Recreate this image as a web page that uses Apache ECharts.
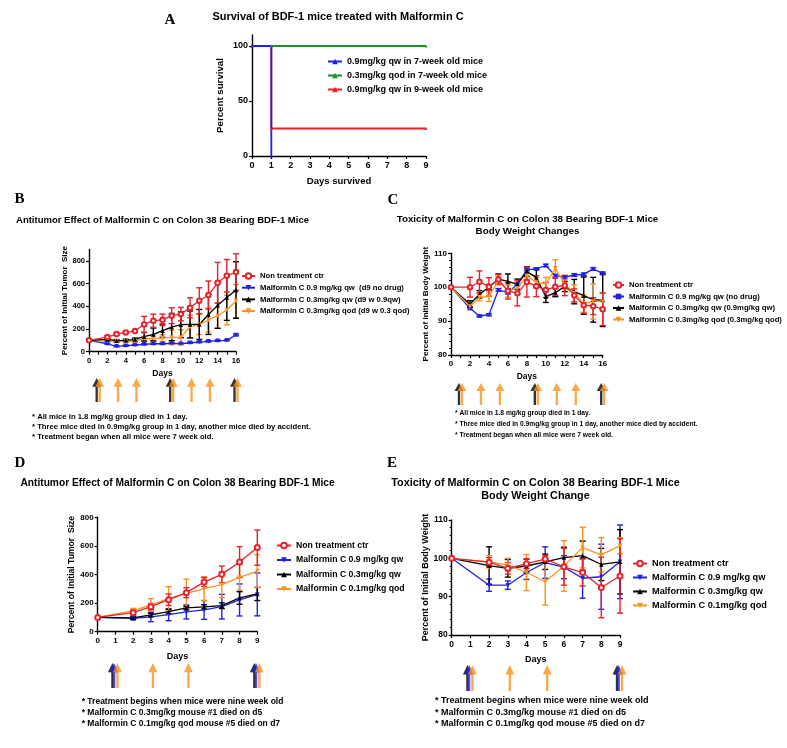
<!DOCTYPE html>
<html>
<head>
<meta charset="utf-8">
<script src="https://cdn.jsdelivr.net/npm/echarts@6/dist/echarts.min.js"></script>
<style>
  html, body { margin: 0; padding: 0; background: #fff; }
  #chart { width: 787px; height: 748px; }
</style>
</head>
<body>
<div id="chart"></div>
<script>
// ---- data ----
// A: survival (step curves)
const survDays = [0, 1, 9];
const survBlue = [100, 0, null];   // 0.9mg/kg qw, 7-week
const survGreen = [100, 100, 100]; // 0.3mg/kg qod, 7-week
const survRed = [100, 25, 25];     // 0.9mg/kg qw, 9-week

// B: tumor size, 7-week mice
const daysB = [0, 2, 3, 4, 5, 6, 7, 8, 9, 10, 11, 12, 13, 14, 15, 16];
const ctrB = [100, 129, 155, 170, 182, 240, 273, 281, 317, 331, 387, 449, 499, 607, 669, 701];
const ctrBErr = [0, 12, 10, 8, 8, 71, 58, 50, 70, 59, 88, 114, 123, 179, 143, 161];
const hiB = [100, 70, 47, 53, 59, 65, 70, 70, 73, 70, 79, 85, 91, 97, 100, 147];
const hiBErr = [0, 6, 5, 5, 5, 5, 6, 6, 6, 5, 6, 6, 6, 6, 5, 8];
const qwB = [100, 108, 97, 100, 108, 132, 152, 185, 217, 238, 240, 240, 328, 408, 478, 543];
const qwBErr = [0, 12, 10, 10, 12, 38, 56, 58, 120, 114, 118, 132, 176, 202, 202, 249];
const qodB = [100, 94, 91, 94, 94, 114, 114, 120, 126, 126, 220, 240, 279, 317, 367, 446];
const qodBErr = [0, 8, 10, 10, 12, 20, 25, 30, 64, 67, 102, 88, 105, 111, 130, 146];

// C: body weight, 7-week mice
const daysC = daysB;
const ctrC = [100, 100, 101.6, 100.1, 102.3, 98.9, 98.2, 101.5, 100.3, 99.2, 100.1, 100.5, 97.6, 94.7, 94.4, 93.5];
const ctrCErr = [0, 2.9, 3.2, 2.7, 1.4, 2.4, 3.7, 4.4, 3.1, 2.2, 2.5, 3.0, 1.9, 2.4, 2.5, 4.8];
const hiC = [100, 93.8, 91.5, 91.9, 99.2, 98.4, 100.9, 105.1, 105.4, 106.4, 103.4, 103.0, 103.6, 103.8, 105.4, 104.1];
const hiCErr = [0, 0.4, 0.3, 0.3, 0.4, 0.4, 0.3, 0.3, 0.3, 0.4, 0.4, 0.4, 0.4, 0.4, 0.4, 0.4];
const qwC = [100, 95.0, 97.9, 100, 102.4, 101.7, 100.9, 104.6, 102.9, 97.2, 98.4, 100.2, 98.7, 97.5, 96.3, 96.2];
const qwCErr = [0, 1.0, 1.1, 0.8, 1.5, 2.2, 1.5, 1.4, 2.4, 1.7, 1.2, 1.5, 3.6, 5.5, 6.6, 7.8];
const qodC = [100, 94.3, 97.0, 97.2, 101.9, 98.9, 99.7, 103.4, 101.4, 100.9, 105.6, 100.9, 98.2, 95.2, 95.8, 95.8];
const qodCErr = [0, 1.0, 1.0, 1.4, 1.2, 1.8, 1.5, 1.2, 1.5, 2.0, 2.5, 1.5, 2.5, 2.6, 5.2, 2.5];

// D: tumor size, 9-week mice
const daysD = [0, 2, 3, 4, 5, 6, 7, 8, 9];
const ctrD = [100, 133, 175, 224, 273, 347, 401, 487, 588];
const ctrDErr = [0, 19, 22, 40, 35, 31, 58, 108, 123];
const hiD = [100, 93, 103, 119, 138, 152, 175, 222, 261];
const hiDErr = [0, 10, 33, 42, 49, 66, 86, 112, 150];
const qwD = [100, 96, 117, 140, 166, 173, 182, 236, 264];
const qwDErr = [0, 8, 12, 15, 12, 15, 20, 44, 46];
const qodD = [100, 147, 187, 231, 268, 301, 329, 380, 424];
const qodDErr = [0, 16, 44, 84, 100, 84, 90, 90, 115];

// E: body weight, 9-week mice
const daysE = daysD;
const ctrE = [100, 99.0, 97.4, 98.6, 99.8, 97.8, 96.3, 92.4, 95.4];
const ctrEErr = [0, 1.2, 1.5, 1.3, 1.0, 4.8, 3.5, 7.9, 9.7];
const hiE = [100, 93.0, 93.0, 96.3, 98.9, 97.7, 94.8, 95.2, 99.1];
const hiEErr = [0, 1.6, 1.1, 1.8, 4.1, 3.0, 5.2, 8.5, 9.6];
const qwE = [100, 98.1, 97.4, 98.0, 99.1, 100.2, 100.7, 98.4, 99.1];
const qwEErr = [0, 4.9, 2.3, 1.8, 2.0, 2.7, 3.8, 4.2, 8.4];
const qodE = [100, 99.1, 98.3, 96.3, 93.9, 98.0, 102.8, 100.9, 103.3];
const qodEErr = [0, 1.6, 1.7, 4.7, 6.1, 6.6, 5.3, 4.5, 2.1];

// treatment days (arrows)
const doseBlack7w = [1, 9, 16];
const doseOrange7w = [1, 3, 5, 9, 11, 13, 16];
const doseBlack9w = [1, 9];
const doseBlue9w = [1, 9];
const doseOrange9w = [1, 3, 5, 9];

// legend names
const namesA = ['0.9mg/kg qw in 7-week old mice', '0.3mg/kg qod in 7-week old mice', '0.9mg/kg qw in 9-week old mice'];
const namesB = ['Non treatment ctr', 'Malformin C 0.9 mg/kg qw  (d9 no drug)', 'Malformin C 0.3mg/kg qw (d9 w 0.9qw)', 'Malformin C 0.3mg/kg qod (d9 w 0.3 qod)'];
const namesC = ['Non treatment ctr ', 'Malformin C 0.9 mg/kg qw (no drug)', 'Malformin C 0.3mg/kg qw (0.9mg/kg qw)', 'Malformin C 0.3mg/kg qod (0.3mg/kg qod)'];
const namesD = ['Non treatment ctr  ', 'Malformin C 0.9 mg/kg qw', 'Malformin C 0.3mg/kg qw', 'Malformin C 0.1mg/kg qod'];
const namesE = ['Non treatment ctr   ', 'Malformin C 0.9 mg/kg qw ', 'Malformin C 0.3mg/kg qw ', 'Malformin C 0.1mg/kg qod '];

const notes7w = [
  '* All mice in 1.8 mg/kg group died in 1 day.',
  '* Three mice died in 0.9mg/kg group in 1 day, another mice died by accident.',
  '* Treatment began when all mice were 7 week old.'
];
const notes9w = [
  '* Treatment begins when mice were nine week old',
  '* Malformin C 0.3mg/kg mouse #1 died on d5',
  '* Malformin C 0.1mg/kg qod mouse #5 died on d7'
];

// ---- style ----
const FONT = '"Liberation Sans", Arial, sans-serif';
const RED = '#e8212b';
const BLUE = '#2020e8';
const BLACK = '#000000';
const ORANGE = '#f7931e';
const GREEN = '#1f8f2a';
const DOWN = 'path://M0,0 L10,0 L5,9 Z';
const ARROW = 'path://M5,0 L10,11 L6.3,11 L6.3,30 L3.7,30 L3.7,11 L0,11 Z';

const chart = echarts.init(document.getElementById('chart'));

function pairs(xs, ys) {
  return xs.map((x, i) => [x, ys[i]]).filter(d => d[1] !== null);
}

function errRender(params, api) {
  const x = api.value(0);
  const top = api.coord([x, api.value(2)]);
  const bot = api.coord([x, api.value(1)]);
  const style = { stroke: api.visual('color'), lineWidth: 1.4 };
  const w = 3;
  return {
    type: 'group',
    children: [
      { type: 'line', shape: { x1: top[0], y1: top[1], x2: bot[0], y2: bot[1] }, style },
      { type: 'line', shape: { x1: top[0] - w, y1: top[1], x2: top[0] + w, y2: top[1] }, style },
      { type: 'line', shape: { x1: bot[0] - w, y1: bot[1], x2: bot[0] + w, y2: bot[1] }, style }
    ]
  };
}

function line(name, g, xs, ys, color, symbol, size) {
  return {
    name, type: 'line', xAxisIndex: g, yAxisIndex: g,
    data: pairs(xs, ys), symbol, symbolSize: size,
    lineStyle: { color, width: 1.3, type: 'solid' },
    itemStyle: { color, borderWidth: symbol === 'emptyCircle' ? 1.2 : 0 },
    emphasis: { disabled: true },
    z: 3
  };
}

function errs(g, xs, ys, es, color) {
  return {
    type: 'custom', xAxisIndex: g, yAxisIndex: g, renderItem: errRender,
    itemStyle: { color }, silent: true, z: 2,
    data: xs.map((x, i) => [x, ys[i] - es[i], ys[i] + es[i]]).filter(d => d[2] > d[1])
  };
}

function arrows(g, days, color, dx, h, z) {
  return {
    type: 'scatter', xAxisIndex: g, yAxisIndex: g,
    data: days.map(d => [d, 0.5]), symbol: ARROW, symbolSize: [9, h], symbolOffset: [dx, 0],
    itemStyle: { color }, silent: true, z
  };
}

const axLine = { show: true, onZero: false, lineStyle: { color: '#000', width: 1.4 } };
const axTick = { show: true, length: 3, lineStyle: { color: '#000', width: 1.2 } };

function xAx(g, max, fs, name, gap, nfs, every) {
  return {
    gridIndex: g, type: 'value', min: 0, max, interval: 1,
    axisLine: axLine, axisTick: axTick, splitLine: { show: false },
    axisLabel: { fontSize: fs, fontWeight: 'bold', color: '#000', margin: 5,
      formatter: v => (v % every === 0 ? String(v) : '') },
    name, nameLocation: 'middle', nameGap: gap,
    nameTextStyle: { fontSize: nfs, fontWeight: 'bold', color: '#000' }
  };
}

function yAx(g, min, max, interval, labels, fs, name, gap, nfs, minor) {
  return {
    gridIndex: g, type: 'value', min, max, interval,
    axisLine: axLine, splitLine: { show: false },
    axisTick: Object.assign({}, axTick, labels ? { customValues: labels } : {}),
    axisLabel: Object.assign({ fontSize: fs, fontWeight: 'bold', color: '#000', margin: 4 }, labels ? { customValues: labels } : {}),
    minorTick: minor ? { show: true, splitNumber: minor, length: 2, lineStyle: { color: '#000', width: 1 } } : { show: false },
    name, nameLocation: 'middle', nameGap: gap,
    nameTextStyle: { fontSize: nfs, fontWeight: 'bold', color: '#000' }
  };
}

function hidden(g, max) {
  return [
    { gridIndex: g, type: 'value', min: 0, max, show: false },
    { gridIndex: g, type: 'value', min: 0, max: 1, show: false }
  ];
}

function txt(x, y, text, size, align, family) {
  return {
    type: 'text', x, y, silent: true,
    style: { text, fontSize: size, fontWeight: 'bold', fontFamily: family || FONT, fill: '#000',
      align: align || 'left', verticalAlign: 'middle' }
  };
}

function legend(data, left, top, gap, fs, iw) {
  return {
    data, left, top, orient: 'vertical', itemGap: gap, itemWidth: iw || 14, itemHeight: 7, padding: 0,
    selectedMode: false, textStyle: { fontSize: fs, fontWeight: 'bold', color: '#000', fontFamily: FONT }
  };
}

const grids = [
  { left: 252, top: 35, width: 174, height: 121 },     // A
  { left: 89, top: 249.5, width: 147, height: 102.2 }, // B
  { left: 451, top: 253.3, width: 151.7, height: 101.7 }, // C
  { left: 97.7, top: 517.3, width: 159.6, height: 114.4 }, // D
  { left: 451.7, top: 520, width: 168.3, height: 115 },  // E
  { left: 89, top: 378, width: 147, height: 24 },      // B arrows
  { left: 451, top: 383, width: 151.7, height: 22 },   // C arrows
  { left: 97.7, top: 663, width: 159.6, height: 25 },  // D arrows
  { left: 451.7, top: 665, width: 168.3, height: 26 }  // E arrows
];

const hB = hidden(5, 16), hC = hidden(6, 16), hD = hidden(7, 9), hE = hidden(8, 9);

const option = {
  animation: false,
  backgroundColor: '#fff',
  textStyle: { fontFamily: FONT },
  grid: grids,
  legend: [
    legend(namesA, 327, 57, 5, 9),
    legend(namesB, 241, 272, 3.7, 7.7, 13),
    legend(namesC, 612, 281, 3.5, 7.7, 11),
    legend(namesD, 276, 541, 5.5, 8.7),
    legend(namesE, 632, 559, 5, 9.2)
  ],
  xAxis: [
    xAx(0, 9, 9, 'Days survived', 20, 9.5, 1),
    xAx(1, 16, 7.5, 'Days', 17, 8.5, 2),
    xAx(2, 16, 8, 'Days', 17.5, 8.5, 2),
    xAx(3, 9, 8, 'Days', 20.5, 9, 1),
    xAx(4, 9, 8.5, 'Days', 20.5, 9, 1),
    hB[0], hC[0], hD[0], hE[0]
  ],
  yAxis: [
    yAx(0, 0, 110, 50, [0, 50, 100], 9, 'Percent survival', 27, 9.7, 0),
    yAx(1, 0, 900, 100, [0, 200, 400, 600, 800], 7.5, 'Percent of Initial Tumor  Size', 19, 8, 0),
    yAx(2, 80, 110, 10, null, 8, 'Percent of Initial Body Weight', 20, 8.1, 5),
    yAx(3, 0, 800, 200, null, 8, 'Percent of Initial Tumor  Size', 21.5, 8.6, 0),
    yAx(4, 80, 110, 10, null, 8.5, 'Percent of Initial Body Weight', 22, 9, 5),
    hB[1], hC[1], hD[1], hE[1]
  ],
  series: [
    // A
    Object.assign(line(namesA[1], 0, survDays, survGreen, GREEN, 'triangle', 3), { step: 'end', lineStyle: { color: GREEN, width: 1.8 } }),
    Object.assign(line(namesA[2], 0, survDays, survRed, RED, 'triangle', 3), { step: 'end', lineStyle: { color: RED, width: 1.8 } }),
    Object.assign(line(namesA[0], 0, survDays, survBlue, BLUE, 'triangle', 3), { step: 'end', lineStyle: { color: BLUE, width: 1.8 } }),
    // B
    errs(1, daysB, hiB, hiBErr, BLUE),
    errs(1, daysB, qodB, qodBErr, ORANGE),
    errs(1, daysB, qwB, qwBErr, BLACK),
    errs(1, daysB, ctrB, ctrBErr, RED),
    line(namesB[1], 1, daysB, hiB, BLUE, DOWN, 4.5),
    line(namesB[3], 1, daysB, qodB, ORANGE, DOWN, 4.5),
    line(namesB[2], 1, daysB, qwB, BLACK, 'triangle', 4.5),
    line(namesB[0], 1, daysB, ctrB, RED, 'emptyCircle', 4.5),
    // C
    errs(2, daysC, hiC, hiCErr, BLUE),
    errs(2, daysC, qwC, qwCErr, BLACK),
    errs(2, daysC, qodC, qodCErr, ORANGE),
    errs(2, daysC, ctrC, ctrCErr, RED),
    line(namesC[1], 2, daysC, hiC, BLUE, 'rect', 3.5),
    line(namesC[2], 2, daysC, qwC, BLACK, 'triangle', 4.5),
    line(namesC[3], 2, daysC, qodC, ORANGE, DOWN, 4.5),
    line(namesC[0], 2, daysC, ctrC, RED, 'emptyCircle', 4.5),
    // D
    errs(3, daysD, hiD, hiDErr, BLUE),
    errs(3, daysD, qwD, qwDErr, BLACK),
    errs(3, daysD, qodD, qodDErr, ORANGE),
    errs(3, daysD, ctrD, ctrDErr, RED),
    line(namesD[1], 3, daysD, hiD, BLUE, DOWN, 4.5),
    line(namesD[2], 3, daysD, qwD, BLACK, 'triangle', 4.5),
    line(namesD[3], 3, daysD, qodD, ORANGE, DOWN, 4.5),
    line(namesD[0], 3, daysD, ctrD, RED, 'emptyCircle', 5),
    // E
    errs(4, daysE, hiE, hiEErr, BLUE),
    errs(4, daysE, qwE, qwEErr, BLACK),
    errs(4, daysE, qodE, qodEErr, ORANGE),
    errs(4, daysE, ctrE, ctrEErr, RED),
    line(namesE[1], 4, daysE, hiE, BLUE, DOWN, 4.5),
    line(namesE[2], 4, daysE, qwE, BLACK, 'triangle', 4.5),
    line(namesE[3], 4, daysE, qodE, ORANGE, DOWN, 4.5),
    line(namesE[0], 4, daysE, ctrE, RED, 'emptyCircle', 5),
    // treatment arrows
    arrows(5, doseBlack7w, BLACK, -1.5, 24, 2),
    arrows(5, doseOrange7w, ORANGE, 1.5, 24, 3),
    arrows(6, doseBlack7w, BLACK, -1.5, 22, 2),
    arrows(6, doseOrange7w, ORANGE, 1.5, 22, 3),
    arrows(7, doseBlack9w, BLACK, -3, 25, 2),
    arrows(7, doseBlue9w, BLUE, -1.3, 25, 3),
    arrows(7, doseOrange9w, ORANGE, 2, 25, 4),
    arrows(8, doseBlack9w, BLACK, -3, 26, 2),
    arrows(8, doseBlue9w, BLUE, -1.3, 26, 3),
    arrows(8, doseOrange9w, ORANGE, 2, 26, 4)
  ],
  graphic: [
    // panel letters
    txt(170, 20, 'A', 15, 'center', '"Liberation Serif", serif'),
    txt(19.5, 199, 'B', 15, 'center', '"Liberation Serif", serif'),
    txt(393, 200, 'C', 15, 'center', '"Liberation Serif", serif'),
    txt(20, 463, 'D', 15, 'center', '"Liberation Serif", serif'),
    txt(392, 463, 'E', 15, 'center', '"Liberation Serif", serif'),
    // titles
    txt(338, 17, 'Survival of BDF-1 mice treated with Malformin C', 11, 'center'),
    txt(162.5, 220, 'Antitumor Effect of Malformin C on Colon 38 Bearing BDF-1 Mice', 9.5, 'center'),
    txt(527.5, 219.3, 'Toxicity of Malformin C on Colon 38 Bearing BDF-1 Mice', 9.8, 'center'),
    txt(527.5, 231.3, 'Body Weight Changes', 9.8, 'center'),
    txt(177.5, 483.3, 'Antitumor Effect of Malformin C on Colon 38 Bearing BDF-1 Mice', 10.2, 'center'),
    txt(535.5, 483.3, 'Toxicity of Malformin C on Colon 38 Bearing BDF-1 Mice', 10.8, 'center'),
    txt(535.5, 496, 'Body Weight Change', 10.8, 'center'),
    // notes
    txt(32, 416.7, notes7w[0], 7.7), txt(32, 427.3, notes7w[1], 7.7), txt(32, 437.3, notes7w[2], 7.7),
    txt(455, 412.7, notes7w[0], 6.7), txt(455, 424, notes7w[1], 6.7), txt(455, 435, notes7w[2], 6.7),
    txt(81.7, 701.7, notes9w[0], 8.5), txt(81.7, 712.3, notes9w[1], 8.5), txt(81.7, 723.3, notes9w[2], 8.5),
    txt(435, 700.7, notes9w[0], 9), txt(435, 712.7, notes9w[1], 9), txt(435, 723.3, notes9w[2], 9)
  ]
};

chart.setOption(option);
</script>
</body>
</html>
